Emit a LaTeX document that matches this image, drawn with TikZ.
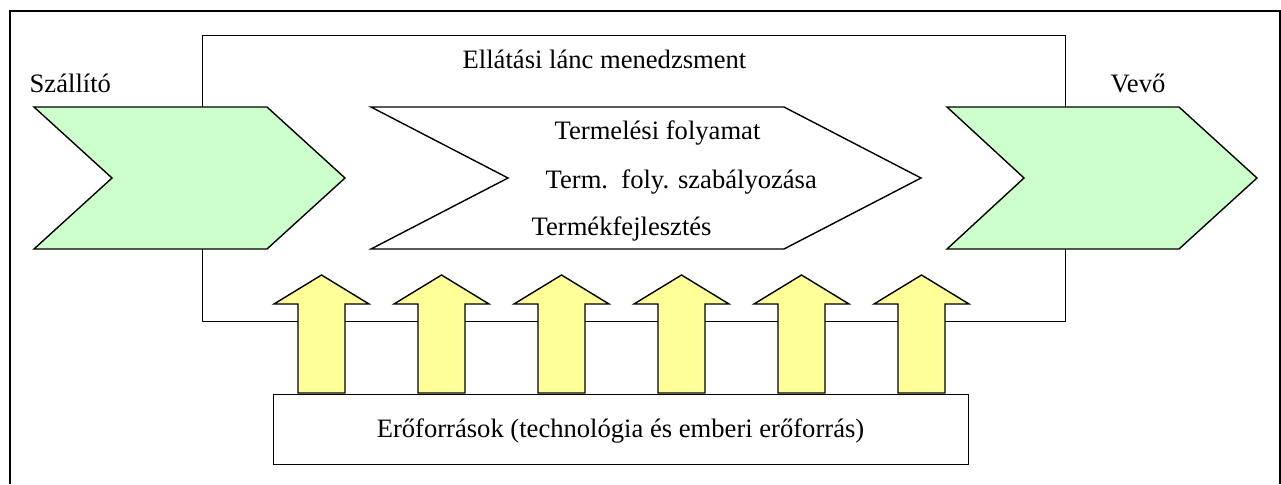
\documentclass[tikz,border=0pt]{standalone}
\usepackage{fontspec}
\setmainfont{Liberation Serif}
\definecolor{partnergreen}{HTML}{CCFFCC}
\definecolor{resyellow}{HTML}{FFFF99}
\begin{document}
\begin{tikzpicture}[x=0.5pt,y=-0.5pt,line width=0.7pt,line join=miter,
  frame/.style={draw=black},
  partner/.style={draw=black,fill=partnergreen},
  process/.style={draw=black,fill=white},
  resarrow/.style={draw=black,fill=resyellow},
  lbl/.style={anchor=base west,inner sep=0pt,font=\fontsize{13.3}{16}\selectfont}]
\useasboundingbox (0,0) rectangle (1281,484);
\fill[white] (0,0) rectangle (1281,484);

% outer frame (open at the bottom edge of the page)
\draw[frame] (10,484) -- (10,11) -- (1280,11) -- (1280,484);

% supply chain management box
\node[frame,anchor=north west,minimum width=431.5pt,minimum height=143pt,inner sep=0pt] (scm) at (202,35) {};
\node[lbl] (scmlabel) at (462,68) {Ellátási lánc menedzsment};

% supplier chevron
\draw[partner] (34,107) coordinate (sup-a) -- (267,107) -- (345,178) coordinate (sup-tip)
  -- (267,249) -- (34,249) -- (112,178) -- cycle;
\node[lbl] (suplabel) at (29,92) {Szállító};

% production process chevron
\draw[process] (371,107) -- (784,107) -- (921,178) coordinate (proc-tip)
  -- (784,249) -- (371,249) -- (508,178) -- cycle;
\node[lbl] (proc1) at (554,139) {Termelési folyamat};
\node[lbl] (proc2) at (545,188) {Term.\ \ foly. szabályozása};
\node[lbl] (proc3) at (531,235) {Termékfejlesztés};

% customer chevron
\draw[partner] (947,107) -- (1179,107) -- (1257,178) coordinate (cus-tip)
  -- (1179,249) -- (947,249) -- (1024,178) -- cycle;
\node[lbl] (cuslabel) at (1110,92) {Vevő};

% resources box
\node[frame,anchor=north west,minimum width=347.5pt,minimum height=35pt,inner sep=0pt] (res) at (273,394) {};
\node[lbl,anchor=base] (reslabel) at (620.5,437) {Erőforrások (technológia és emberi erőforrás)};

% upward resource arrows
\foreach \t [count=\i] in {321.5,441.5,561.5,681.5,801.5,921.5}{
  \draw[resarrow] (\t-23.5,393) -- (\t-23.5,304) -- (\t-47.5,304) -- (\t,275) coordinate (up\i)
    -- (\t+47.5,304) -- (\t+23.5,304) -- (\t+23.5,393) -- cycle;
}
\end{tikzpicture}
\end{document}
